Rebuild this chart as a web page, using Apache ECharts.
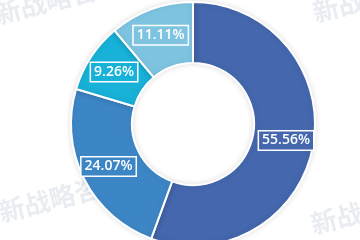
<!DOCTYPE html>
<html><head><meta charset="utf-8">
<script src="https://cdn.jsdelivr.net/npm/echarts@6/dist/echarts.min.js"></script>
<style>html,body{margin:0;padding:0;background:#fff}#c{width:360px;height:240px}</style>
</head><body><div id="c"></div>
<script>
const categories = ['A', 'B', 'C', 'D'];
const values = [55.56, 24.07, 9.26, 11.11];
const colors = ['#4467ad', '#3d86c6', '#18b1d8', '#7ec4e1'];

const chart = echarts.init(document.getElementById('c'), null, {renderer: 'canvas'});
const wm = {fill: '#e9edf2', font: 'bold 26px "Noto Sans CJK SC"'};
chart.setOption({
  animation: false,
  graphic: [
    {type: 'text', x: -8, y: 2, rotation: 0.25, style: Object.assign({text: '新战略咨询'}, wm), z: -10},
    {type: 'text', x: -4, y: 200, rotation: 0.25, style: Object.assign({text: '新战略咨询'}, wm), z: -10},
    {type: 'text', x: 310, y: 0, rotation: 0.25, style: Object.assign({text: '新战'}, wm), z: -10},
    {type: 'text', x: 308, y: 212, rotation: 0.25, style: Object.assign({text: '新战'}, wm), z: -10}
  ],
  series: [{
    type: 'pie',
    z: 5,
    center: [193, 124],
    radius: [61, 122],
    startAngle: 90,
    clockwise: true,
    data: categories.map((c, i) => ({name: c, value: values[i], itemStyle: {color: colors[i]}})),
    itemStyle: {borderColor: '#fff', borderWidth: 2, shadowBlur: 6, shadowColor: 'rgba(0,0,0,0.12)'},
    label: {
      show: true,
      position: 'inside',
      formatter: p => p.value.toFixed(2) + '%',
      color: '#fff',
      fontFamily: 'Open Sans',
      fontWeight: 600,
      fontSize: 14,
      borderColor: '#fff',
      borderWidth: 1.5,
      padding: [3, 3, 1, 3],
      backgroundColor: 'inherit'
    },
    labelLine: {show: false},
    emphasis: {disabled: true}
  }]
});
</script></body></html>
